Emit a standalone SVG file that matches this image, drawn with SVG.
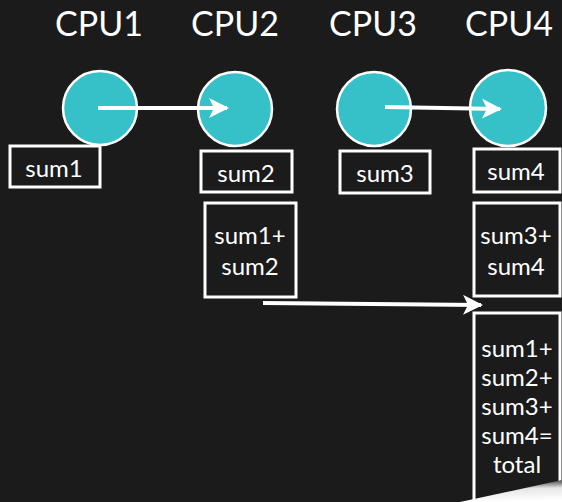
<svg xmlns="http://www.w3.org/2000/svg" width="562" height="502" viewBox="0 0 562 502">
  <defs>
    <style>
      .bg { fill: #1b1b1b; }
      .cpu { fill: #36c0c8; stroke: #ffffff; stroke-width: 2.5; }
      .box { fill: none; stroke: #ffffff; stroke-width: 3; }
      .title { font-family: "Lato", "Liberation Sans", sans-serif; font-size: 34px; fill: #ffffff; text-anchor: middle; }
      .lbl { font-family: "Lato", "Liberation Sans", sans-serif; font-size: 24px; fill: #ffffff; text-anchor: middle; }
      .wire { fill: none; stroke: #ffffff; stroke-width: 4; }
    </style>
    <marker id="head" viewBox="0 0 10 10" refX="9" refY="5" markerWidth="5" markerHeight="5" orient="auto" markerUnits="strokeWidth">
      <path d="M0,0 L10,5 L0,10 L2.5,5 Z" fill="#ffffff"/>
    </marker>
    <linearGradient id="curl" x1="0" y1="0" x2="0.1" y2="1">
      <stop offset="0" stop-color="#1b1b1b"/>
      <stop offset="0.45" stop-color="#e6e6e6"/>
      <stop offset="1" stop-color="#ffffff"/>
    </linearGradient>
  </defs>

  <rect class="bg" x="0" y="0" width="562" height="502"/>

  <!-- column headers -->
  <g id="headers">
    <text class="title" x="99" y="36">CPU1</text>
    <text class="title" x="235" y="36">CPU2</text>
    <text class="title" x="373" y="36">CPU3</text>
    <text class="title" x="509" y="36">CPU4</text>
  </g>

  <!-- processors -->
  <g id="cpu1"><circle class="cpu" cx="100" cy="108" r="37"/></g>
  <g id="cpu2"><circle class="cpu" cx="235" cy="109" r="37"/></g>
  <g id="cpu3"><circle class="cpu" cx="374" cy="109" r="37"/></g>
  <g id="cpu4"><circle class="cpu" cx="508" cy="108" r="38"/></g>

  <!-- partial sums -->
  <g id="sum1">
    <rect class="box" x="10" y="146" width="90" height="41"/>
    <text class="lbl" x="54" y="177">sum1</text>
  </g>
  <g id="sum2">
    <rect class="box" x="201" y="151" width="91" height="41"/>
    <text class="lbl" x="246" y="182">sum2</text>
  </g>
  <g id="sum3">
    <rect class="box" x="340" y="151" width="90" height="42"/>
    <text class="lbl" x="385" y="182">sum3</text>
  </g>
  <g id="sum4">
    <rect class="box" x="474" y="149" width="86" height="43"/>
    <text class="lbl" x="516" y="180">sum4</text>
  </g>

  <g id="sum12">
    <rect class="box" x="205" y="203" width="91" height="94"/>
    <text class="lbl" x="250" y="244">sum1+</text>
    <text class="lbl" x="250" y="275">sum2</text>
  </g>
  <g id="sum34">
    <rect class="box" x="474" y="203" width="86" height="93"/>
    <text class="lbl" x="516" y="244">sum3+</text>
    <text class="lbl" x="516" y="275">sum4</text>
  </g>

  <g id="total">
    <rect class="box" x="474" y="313" width="86" height="200"/>
    <text class="lbl" x="517" y="357">sum1+</text>
    <text class="lbl" x="517" y="386">sum2+</text>
    <text class="lbl" x="517" y="415">sum3+</text>
    <text class="lbl" x="517" y="444">sum4=</text>
    <text class="lbl" x="517" y="473">total</text>
  </g>

  <!-- transfers between processors -->
  <g id="connectors">
    <line class="wire" x1="98" y1="108" x2="227" y2="108" marker-end="url(#head)"/>
    <line class="wire" x1="385" y1="107" x2="500" y2="109" marker-end="url(#head)"/>
    <line class="wire" x1="263" y1="303" x2="481" y2="305" marker-end="url(#head)"/>
  </g>

  <!-- turned page corner -->
  <polygon points="460,502 562,480 562,502" fill="url(#curl)"/>
</svg>
